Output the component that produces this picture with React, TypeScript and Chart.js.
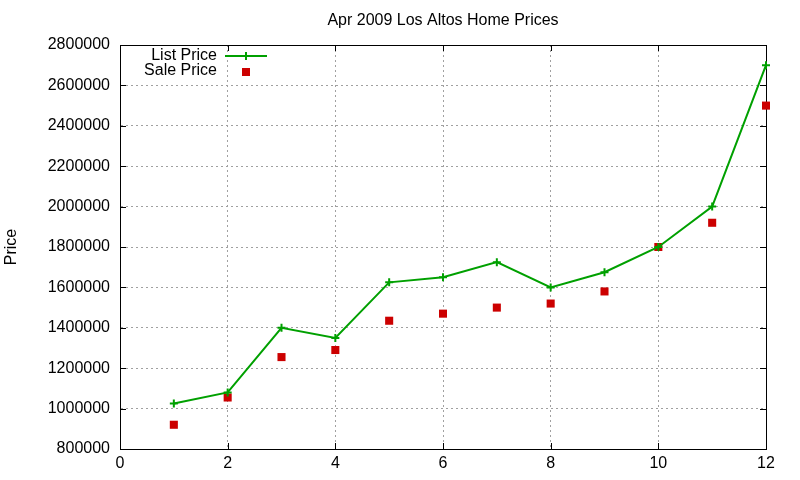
import { useEffect, useRef } from "react"
import { Chart, registerables } from "chart.js"

Chart.register(...registerables)

// data
const months = [1, 2, 3, 4, 5, 6, 7, 8, 9, 10, 11, 12]
const listPrice = [1025000, 1080000, 1400000, 1350000, 1625000, 1650000, 1725000, 1600000, 1675000, 1800000, 2000000, 2700000]
const salePrice = [920000, 1055000, 1255000, 1290000, 1435000, 1470000, 1500000, 1520000, 1580000, 1800000, 1920000, 2500000]

const FONT = "'Liberation Sans', Arial, sans-serif"
const GREEN = "#00a000"
const RED = "#cc0000"

// gnuplot-like frame: solid box plus inward ticks on all four sides
const framePlugin = {
  id: "frame",
  beforeDatasetsDraw(chart: any) {
    const { ctx, chartArea: a, scales } = chart
    const len = 6
    ctx.save()
    ctx.strokeStyle = "#000"
    ctx.lineWidth = 1
    ctx.setLineDash([])
    ctx.beginPath()
    scales.x.ticks.forEach((t: any) => {
      const px = Math.round(scales.x.getPixelForValue(t.value)) + 0.5
      ctx.moveTo(px, a.bottom)
      ctx.lineTo(px, a.bottom - len)
      ctx.moveTo(px, a.top)
      ctx.lineTo(px, a.top + len)
    })
    scales.y.ticks.forEach((t: any) => {
      const py = Math.round(scales.y.getPixelForValue(t.value)) + 0.5
      ctx.moveTo(a.left, py)
      ctx.lineTo(a.left + len, py)
      ctx.moveTo(a.right, py)
      ctx.lineTo(a.right - len, py)
    })
    ctx.stroke()
    ctx.strokeRect(Math.round(a.left) + 0.5, Math.round(a.top) + 0.5, Math.round(a.right - a.left), Math.round(a.bottom - a.top))
    ctx.restore()
  },
}

// legend inside the plot, text right-aligned with the sample to its right
const keyPlugin = {
  id: "key",
  afterDatasetsDraw(chart: any) {
    const { ctx, chartArea: a } = chart
    const textRight = a.left + 97
    const sampleL = a.left + 105
    const sampleR = a.left + 147
    const mid = (sampleL + sampleR) / 2
    ctx.save()
    ctx.font = `16px ${FONT}`
    ctx.textAlign = "right"
    ctx.textBaseline = "middle"
    chart.data.datasets.forEach((ds: any, i: number) => {
      const y = a.top + 11 + i * 15
      ctx.fillStyle = "#000"
      ctx.fillText(ds.label, textRight, y)
      if (ds.showLine) {
        ctx.strokeStyle = ds.borderColor
        ctx.lineWidth = 2
        ctx.beginPath()
        ctx.moveTo(sampleL, y)
        ctx.lineTo(sampleR, y)
        ctx.moveTo(mid - 4, y)
        ctx.lineTo(mid + 4, y)
        ctx.moveTo(mid, y - 4)
        ctx.lineTo(mid, y + 4)
        ctx.stroke()
      } else {
        ctx.fillStyle = ds.backgroundColor
        ctx.fillRect(mid - 4, y - 3, 8, 8)
      }
    })
    ctx.restore()
  },
}

export default function App() {
  const canvasRef = useRef<HTMLCanvasElement>(null)
  const chartRef = useRef<Chart | null>(null)

  useEffect(() => {
    if (!canvasRef.current) return
    chartRef.current?.destroy()
    chartRef.current = new Chart(canvasRef.current, {
      type: "scatter",
      data: {
        datasets: [
          {
            label: "List Price",
            data: months.map((m, i) => ({ x: m, y: listPrice[i] })),
            showLine: true,
            borderColor: GREEN,
            backgroundColor: GREEN,
            borderWidth: 2,
            pointStyle: "cross",
            pointRadius: 4,
            pointBorderWidth: 2,
            pointBorderColor: GREEN,
            clip: false,
          },
          {
            label: "Sale Price",
            data: months.map((m, i) => ({ x: m, y: salePrice[i] })),
            showLine: false,
            borderColor: RED,
            backgroundColor: RED,
            pointStyle: "rect",
            pointRadius: 5.7,
            pointBorderWidth: 0,
            clip: false,
          },
        ],
      },
      options: {
        animation: false,
        responsive: true,
        maintainAspectRatio: false,
        layout: { padding: { top: 0, right: 34, bottom: 0, left: 0 } },
        plugins: {
          legend: { display: false },
          tooltip: { enabled: false },
          title: {
            display: true,
            text: "Apr 2009 Los Altos Home Prices",
            fullSize: false,
            color: "#000",
            font: { family: FONT, size: 16, weight: "normal" },
            padding: { top: 11, bottom: 14.8 },
          },
        },
        scales: {
          x: {
            type: "linear",
            min: 0,
            max: 12,
            afterFit: (s: any) => {
              s.height = 31
            },
            ticks: { stepSize: 2, color: "#000", padding: 5, font: { family: FONT, size: 16 } },
            grid: { color: "#a0a0a0", drawTicks: false },
            border: { color: "#000", dash: [2, 3] },
          },
          y: {
            min: 800000,
            max: 2800000,
            afterFit: (s: any) => {
              s.width = 120
            },
            ticks: {
              stepSize: 200000,
              color: "#000",
              padding: 10,
              font: { family: FONT, size: 16 },
              callback: (v: any) => String(v),
            },
            grid: { color: "#a0a0a0", drawTicks: false },
            border: { color: "#000", dash: [2, 3] },
            title: {
              display: true,
              text: "Price",
              color: "#000",
              font: { family: FONT, size: 16 },
              padding: { top: 2, bottom: 0 },
            },
          },
        },
      },
      plugins: [framePlugin, keyPlugin],
    } as any)
    return () => {
      chartRef.current?.destroy()
      chartRef.current = null
    }
  }, [])

  return (
    <div style={{ position: "fixed", left: 0, top: 0, width: 800, height: 480, background: "#fff" }}>
      <canvas ref={canvasRef}></canvas>
    </div>
  )
}
